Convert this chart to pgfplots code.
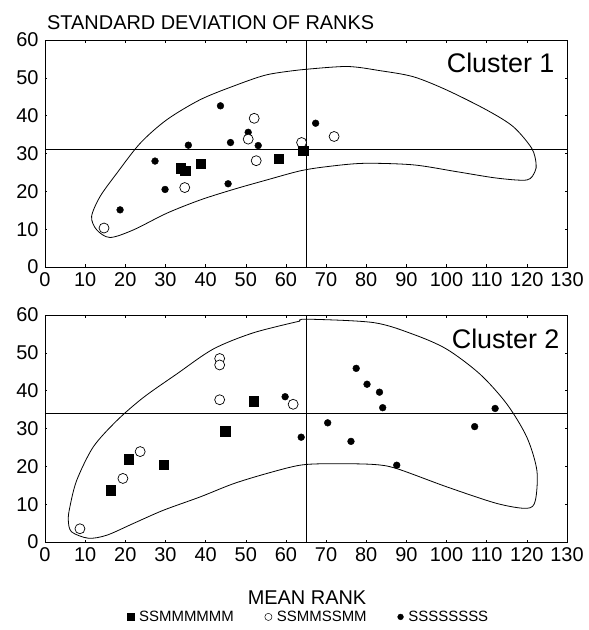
\documentclass[border=0pt]{standalone}
\usepackage{fontspec}
\setmainfont{Liberation Sans}
\usepackage{pgfplots}
\pgfplotsset{compat=1.18}

\pgfplotsset{
  panel/.style={
    width=522bp, height=227bp, scale only axis,
    xmin=0, xmax=130, ymin=0, ymax=60,
    xtick={0,10,...,130}, ytick={0,10,...,60},
    axis line style={line width=0.8bp},
    tick style={black, line width=0.5bp}, major tick length=2.5bp, tick align=inside,
    /pgf/number format/assume math mode=true,
    tick label style={font=\fontsize{20}{20}\selectfont},
    xticklabel style={yshift=-2bp},
    yticklabel style={xshift=-3bp},
    clip=false,
  },
  loop/.style={black, line width=0.8bp, smooth, mark=none, forget plot},
  refline/.style={black, line width=0.8bp, mark=none, forget plot},
  sq/.style={only marks, black, mark=square*, mark size=4.6bp, forget plot},
  oc/.style={only marks, black, mark=*, mark size=5bp,
    mark options={fill=white, line width=0.7bp}, forget plot},
  fc/.style={only marks, black, mark=*, mark size=3.4bp, forget plot},
  dotlegend/.style={legend image code/.code={\draw[##1] plot coordinates {(0bp,0bp)};}},
}

\begin{document}
\begin{tikzpicture}
\path[use as bounding box] (-45bp,-363bp) rectangle (544bp,267bp);

% ---- Cluster 1 ----
\begin{axis}[panel, at={(0bp,0bp)}, anchor=south west]
\addplot[loop] coordinates {
  (63.5,52.1) (75.1,53.0) (83.4,51.9) (91.7,50.3) (100,46.8) (110,41.5)
  (116.6,37.1) (121.2,31.4) (122.3,27.4) (122,25.2) (120,23.0) (112.5,23.5)
  (102.5,25.2) (91.7,27.0) (79.3,27.4) (70,26.5) (63.5,25.4) (55.2,23.0)
  (46.9,20.5) (38.6,17.7) (30.3,14.2) (22.0,9.8) (16.2,7.8) (12.9,9.8)
  (11.6,13.3) (13.7,18.6) (17.9,24.8) (23.7,32.7) (30.3,38.9) (38.6,44.2)
  (46.9,47.8) (55.2,50.8) (63.5,52.1)};
\addplot[refline] coordinates {(0,31) (130,31)};
\addplot[refline] coordinates {(65,0) (65,60)};
% SSSSSSSS
\addplot[fc] coordinates {
  (18.7,15.1) (27.4,28.0) (29.9,20.5) (35.7,32.2) (43.7,42.6)
  (45.6,22.0) (46.2,32.9) (50.6,35.6) (53.1,32.1) (67.4,38.0)};
% SSMMSSMM
\addplot[oc] coordinates {
  (14.7,10.3) (34.8,21.0) (50.6,33.8) (52.1,39.3) (52.6,28.1)
  (63.9,32.9) (72.0,34.5)};
% SSMMMMMM
\addplot[sq] coordinates {
  (33.7,26.1) (34.9,25.5) (38.7,27.2) (58.2,28.6) (64.3,30.8)};
\node[anchor=base east, font=\fontsize{27}{27}\selectfont]
  at (rel axis cs:1,1) [xshift=-9bp, yshift=-32bp] {Cluster 1};
\end{axis}

% ---- Cluster 2 ----
\begin{axis}[panel, at={(0bp,-275bp)}, anchor=south west,
  legend columns=3,
  legend style={draw=none, fill=none, at={(0.504,-0.33)}, anchor=center,
    font=\fontsize{15}{15}\selectfont,
    nodes={inner sep=1bp},
    /tikz/every odd column/.append style={column sep=4bp},
    /tikz/every even column/.append style={column sep=30bp},
    inner sep=0pt},
]
\addplot[loop] coordinates {
  (63.5,58.4) (65.2,58.9) (81.8,58.0) (91.7,54.9) (100,51.0) (108.3,44.4)
  (115.0,36.5) (120.0,27.7) (122.5,18.9) (122.1,10.9) (120.0,8.9) (112.5,10.2)
  (100,14.6) (87.6,19.4) (81.8,20.5) (71.0,20.7) (63.5,20.3) (55.2,18.1)
  (46.9,15.4) (38.6,11.9) (29.5,8.4) (22.0,4.9) (15.4,1.8) (10.8,1.0)
  (6.6,2.7) (5.8,5.8) (6.2,9.3) (7.9,16.3) (12.0,25.1) (17.9,32.1)
  (24.5,38.2) (32.8,44.4) (41.9,51.0) (51.9,55.3) (63.5,58.4)};
\addplot[refline] coordinates {(0,34) (130,34)};
\addplot[refline] coordinates {(65,0) (65,60)};
% SSSSSSSS
\addplot[fc] coordinates {
  (59.8,38.4) (63.8,27.7) (70.4,31.5) (76.2,26.6) (77.5,45.9) (80.2,41.7)
  (83.3,39.6) (84.1,35.5) (87.6,20.3) (107.0,30.5) (112.1,35.3)};
% SSMMSSMM
\addplot[oc] coordinates {
  (8.7,3.5) (19.4,16.8) (23.7,23.9) (43.5,48.5) (43.5,46.8) (43.5,37.6)
  (61.8,36.4)};
% SSMMMMMM
\addplot[sq] coordinates {
  (16.4,13.7) (20.8,21.9) (29.5,20.4) (44.9,29.3) (51.9,37.2)};
\node[anchor=base east, font=\fontsize{27}{27}\selectfont]
  at (rel axis cs:1,1) [xshift=-4bp, yshift=-33bp] {Cluster 2};
\node[anchor=base, font=\fontsize{20}{20}\selectfont]
  at (rel axis cs:0.502,0) [yshift=-62bp] {MEAN RANK};
\addlegendimage{dotlegend, black, mark=square*, mark size=3.6bp}
\addlegendentry{SSMMMMMM}
\addlegendimage{dotlegend, black, mark=*, mark size=3.6bp, mark options={fill=white, line width=0.5bp}}
\addlegendentry{SSMMSSMM}
\addlegendimage{dotlegend, black, mark=*, mark size=2.9bp}
\addlegendentry{SSSSSSSS}
\end{axis}

\node[anchor=base west, font=\fontsize{20}{20}\selectfont, inner sep=0pt]
  at (2bp,237bp) {STANDARD DEVIATION OF RANKS};
\end{tikzpicture}
\end{document}
